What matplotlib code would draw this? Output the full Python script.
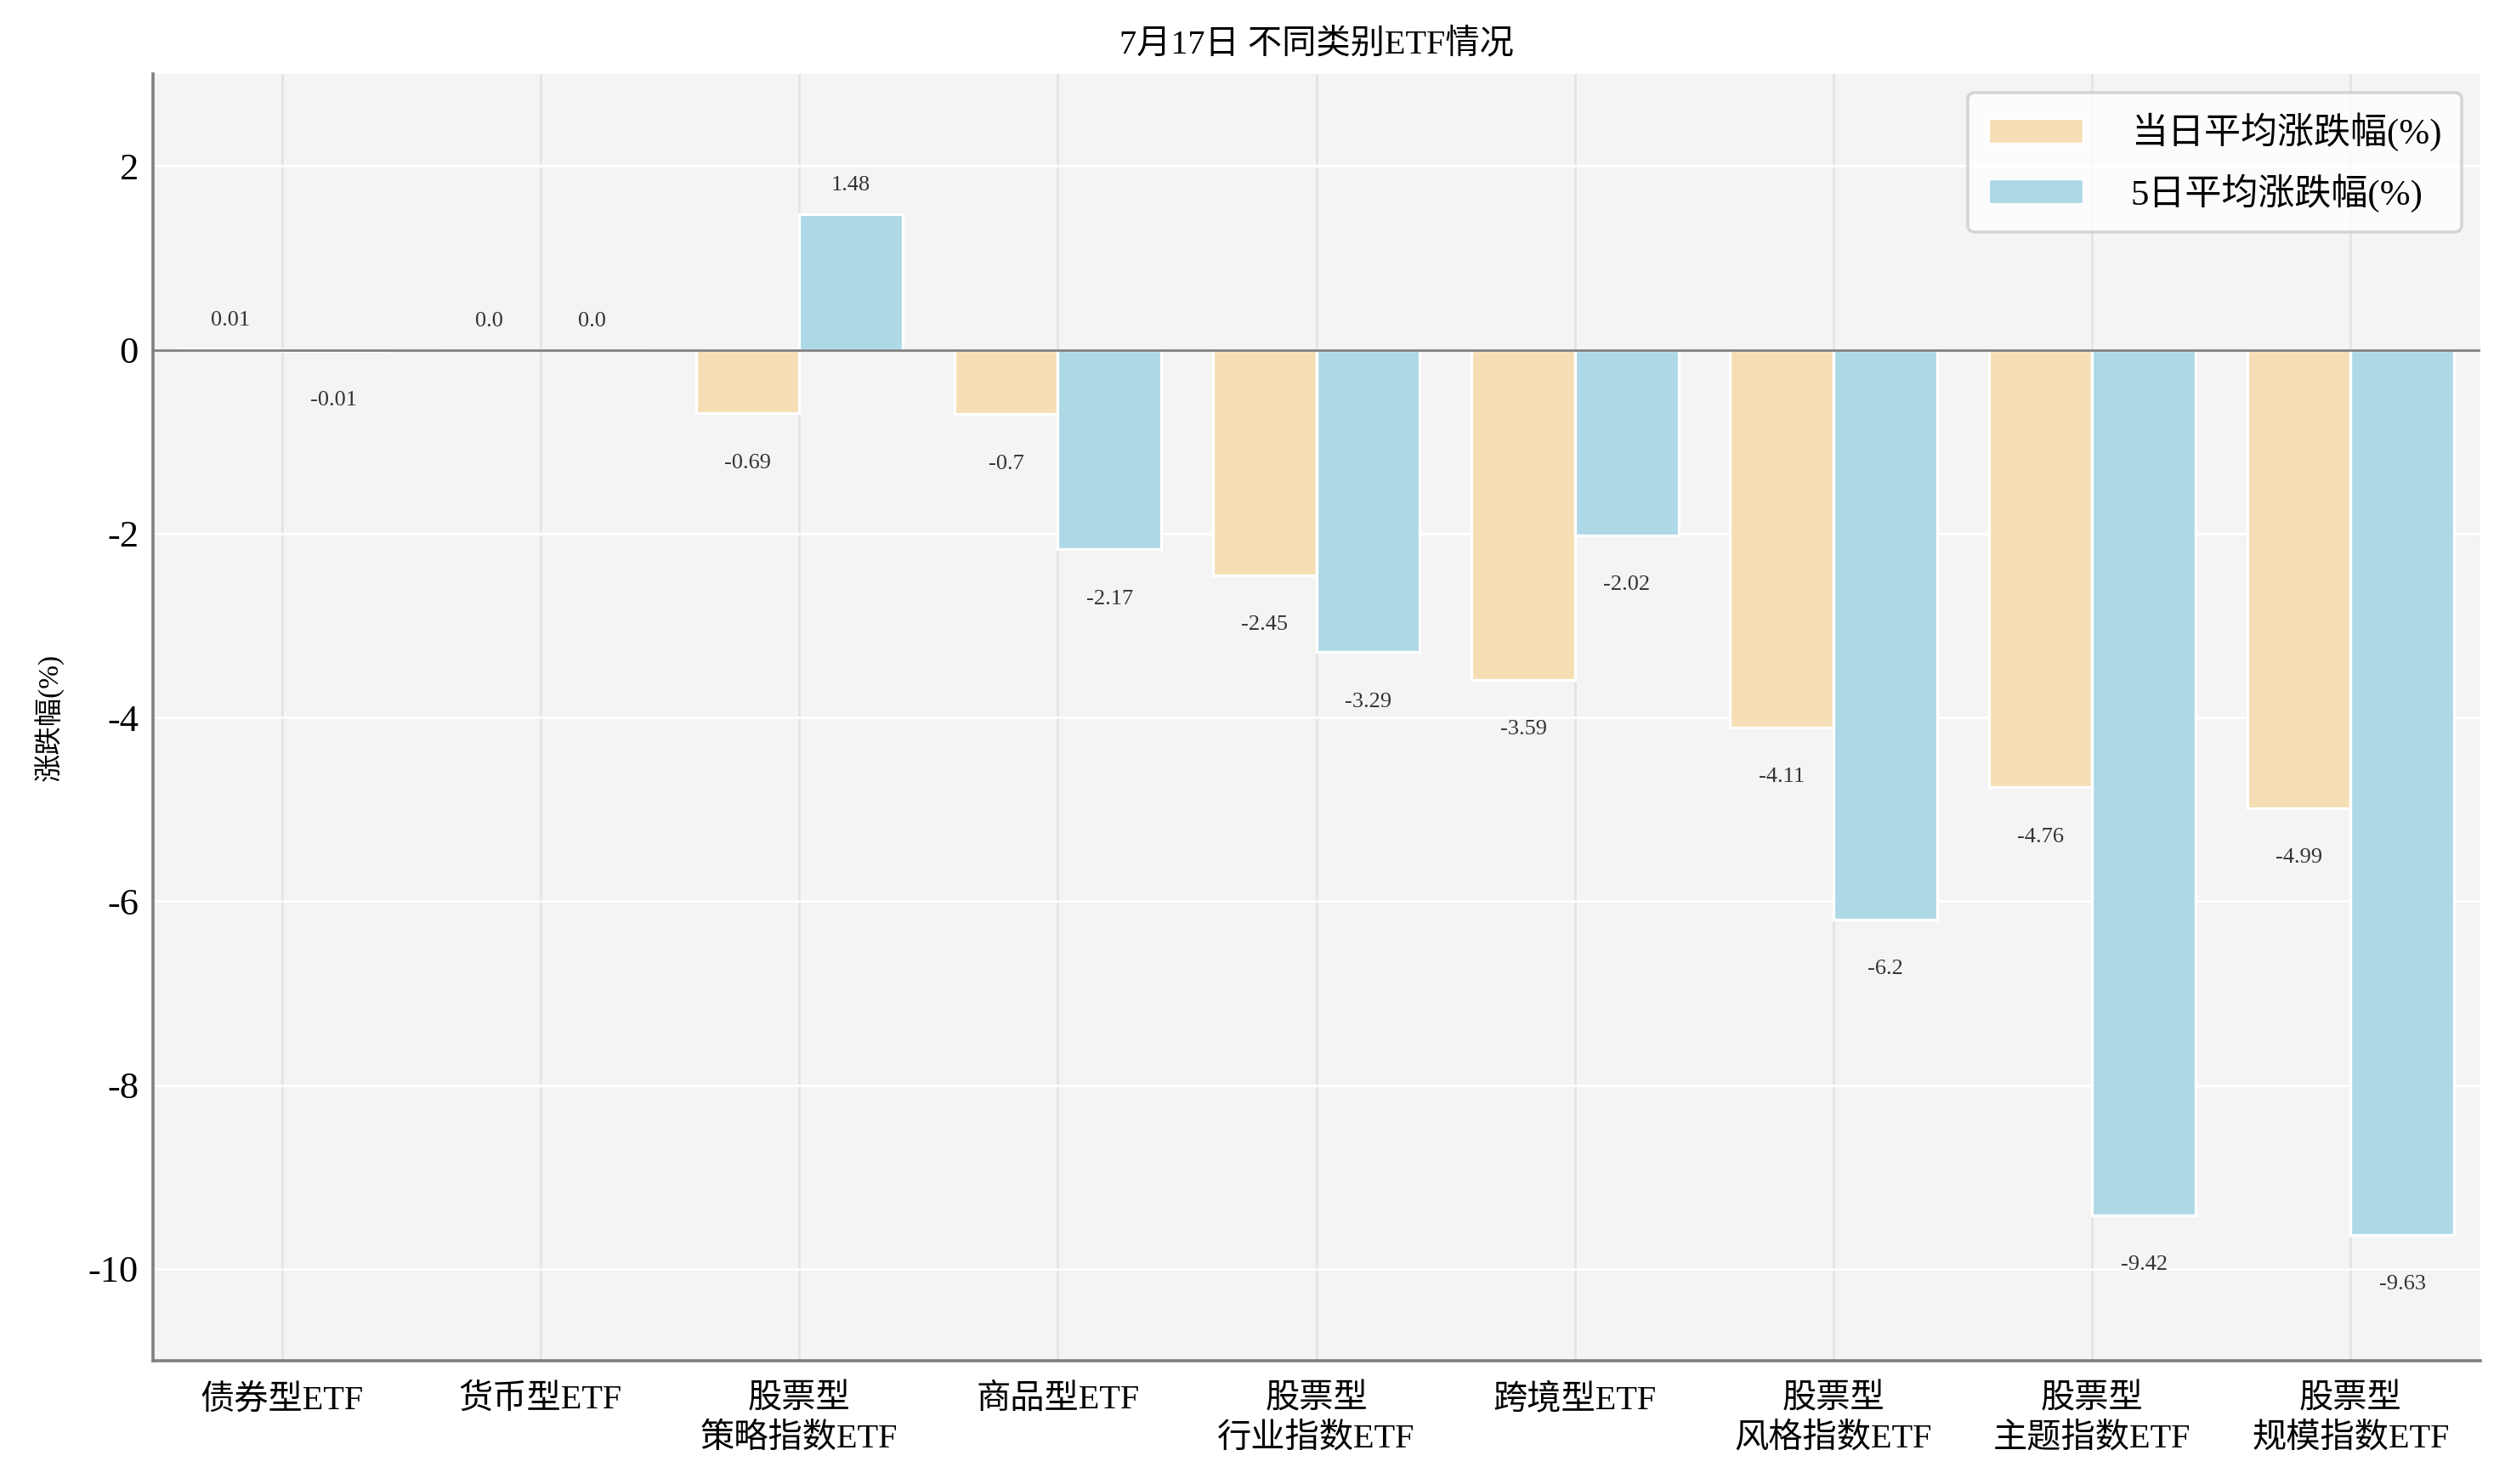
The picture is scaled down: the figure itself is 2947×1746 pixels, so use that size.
import numpy as np
import matplotlib
matplotlib.use("Agg")
from matplotlib import pyplot as plt

plt.rcParams['font.family'] = ['Liberation Serif', 'Noto Sans CJK SC']
plt.rcParams['axes.unicode_minus'] = False

categories = ['债券型ETF', '货币型ETF', '股票型\n策略指数ETF', '商品型ETF', '股票型\n行业指数ETF',
              '跨境型ETF', '股票型\n风格指数ETF', '股票型\n主题指数ETF', '股票型\n规模指数ETF']
day_change = [0.01, 0.0, -0.69, -0.7, -2.45, -3.59, -4.11, -4.76, -4.99]
five_day_change = [-0.01, 0.0, 1.48, -2.17, -3.29, -2.02, -6.2, -9.42, -9.63]
series_names = ['当日平均涨跌幅(%)', '5日平均涨跌幅(%)']
colors = ['#F5DEB3', '#ADD8E6']


def label_bars(ax, bars, values):
    for b, v in zip(bars, values):
        x = b.get_x() + b.get_width() / 2
        if v >= 0:
            ax.annotate(str(v), (x, v), xytext=(0, 8), textcoords='offset points',
                        ha='center', va='bottom', fontsize=9.5, color='#333333')
        else:
            ax.annotate(str(v), (x, v), xytext=(0, -17), textcoords='offset points',
                        ha='center', va='top', fontsize=9.5, color='#333333')


fig = plt.figure(figsize=(14.735, 8.73), dpi=200)
ax = fig.add_subplot(111)
fig.subplots_adjust(left=0.061, right=0.99, top=0.95, bottom=0.083)

x = np.arange(len(categories))
w = 0.4
bars1 = ax.bar(x - w / 2, day_change, w, color=colors[0], edgecolor='white', linewidth=1.2,
               label=series_names[0], zorder=3)
bars2 = ax.bar(x + w / 2, five_day_change, w, color=colors[1], edgecolor='white', linewidth=1.2,
               label=series_names[1], zorder=3)
label_bars(ax, bars1, day_change)
label_bars(ax, bars2, five_day_change)

ax.set_facecolor('#f4f4f4')
ax.set_xlim(-0.5, len(categories) - 0.5)
ax.set_ylim(-11, 3)
ax.set_yticks([-10, -8, -6, -4, -2, 0, 2])
ax.set_xticks(x)
ax.set_xticklabels(categories, fontsize=14.5, linespacing=1.3)
ax.tick_params(axis='y', labelsize=16, length=0, pad=6)
ax.tick_params(axis='x', length=0, pad=10)

ax.grid(axis='y', color='white', linewidth=1.0, zorder=0)
ax.grid(axis='x', color='#e4e4e4', linewidth=1.0, zorder=0)
ax.axhline(0, color='#808080', linewidth=1.0, zorder=4)

for s in ['top', 'right']:
    ax.spines[s].set_visible(False)
for s in ['left', 'bottom']:
    ax.spines[s].set_color('#808080')
    ax.spines[s].set_linewidth(1.3)

ax.set_ylabel('涨跌幅(%)', fontsize=12, labelpad=10)
ax.set_title('7月17日 不同类别ETF情况', fontsize=14.5, pad=9)

leg = ax.legend(loc='upper right', fontsize=15.5, fancybox=True, framealpha=0.8,
                edgecolor='#cccccc', borderpad=0.55, labelspacing=0.6,
                handlelength=2.6, handletextpad=1.3)
leg.get_frame().set_linewidth(1.3)

fig.savefig('out.png', dpi=200)
